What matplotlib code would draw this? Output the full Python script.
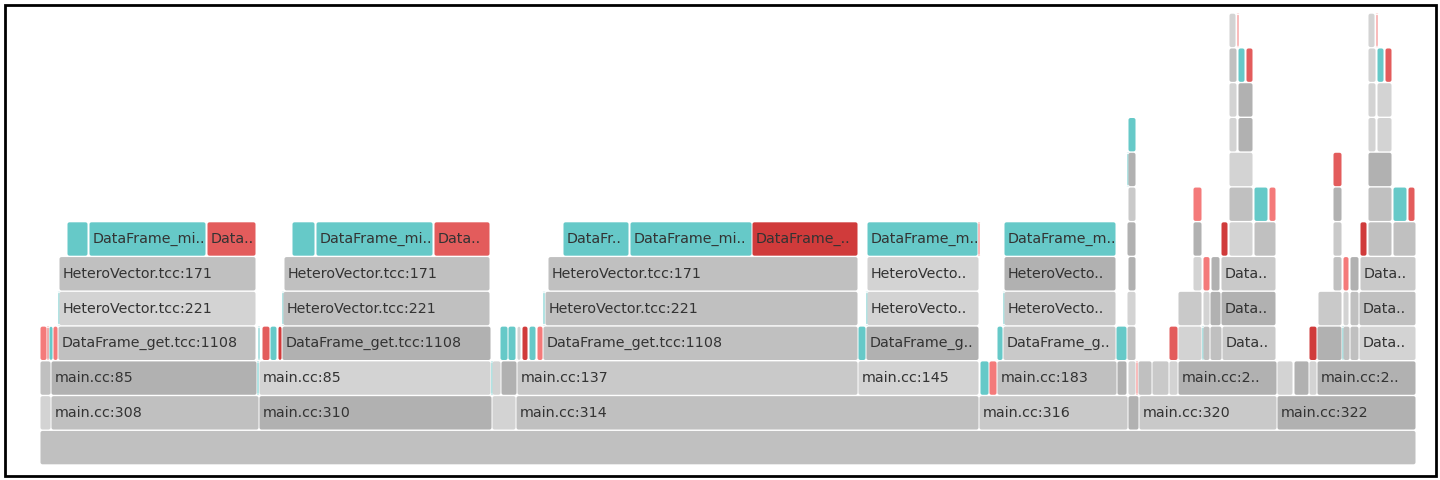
import matplotlib
matplotlib.use('Agg')
import matplotlib.pyplot as plt
from matplotlib.patches import Rectangle, FancyBboxPatch

# flame graph frames, one list per stack depth: (start, end, label, kind)
# start/end in samples, root = 0..1376
row0 = [(0, 1376, '', 'g3')]
row1 = [(0, 11, '', 'g1'), (11, 219, 'main.cc:308', 'g3'), (219, 452, 'main.cc:310', 'g4'),
        (452, 476, '', 'g1'), (476, 939, 'main.cc:314', 'g3'), (939, 1088, 'main.cc:316', 'g2'),
        (1088, 1099, '', 'g4'), (1099, 1237, 'main.cc:320', 'g2'), (1237, 1376, 'main.cc:322', 'g4')]
row2 = [(0, 11, '', 'g3'), (11, 217, 'main.cc:85', 'g4'), (217, 219, '', 'teal'),
        (219, 451, 'main.cc:85', 'g1'), (451, 452, '', 'teal'), (452, 461, '', 'g1'),
        (461, 477, '', 'g4'), (477, 818, 'main.cc:137', 'g2'), (818, 939, 'main.cc:145', 'g1'),
        (940, 949, '', 'teal'), (949, 957, '', 'salmon'), (957, 1077, 'main.cc:183', 'g3'),
        (1077, 1087, '', 'g4'), (1088, 1096, '', 'g1'), (1096, 1098, '', 'salmon'),
        (1098, 1112, '', 'g3'), (1112, 1129, '', 'g2'), (1129, 1138, '', 'g1'),
        (1138, 1237, 'main.cc:2..', 'g4'), (1237, 1253, '', 'g1'), (1254, 1269, '', 'g4'),
        (1269, 1277, '', 'g1'), (1277, 1376, 'main.cc:2..', 'g4')]
row3 = [(0, 7, '', 'salmon'), (7, 9, '', 'red'), (9, 13, '', 'teal'), (13, 18, '', 'salmon'),
        (18, 216, 'DataFrame_get.tcc:1108', 'g3'), (218, 220, '', 'teal'), (222, 230, '', 'red'),
        (230, 237, '', 'teal'), (238, 242, '', 'crimson'), (242, 451, 'DataFrame_get.tcc:1108', 'g4'),
        (460, 468, '', 'teal'), (468, 476, '', 'teal'), (477, 481, '', 'g1'), (482, 488, '', 'crimson'),
        (489, 496, '', 'teal'), (497, 503, '', 'salmon'), (503, 818, 'DataFrame_get.tcc:1108', 'g3'),
        (818, 826, '', 'teal'), (826, 939, 'DataFrame_g..', 'g4'), (957, 963, '', 'teal'),
        (963, 1076, 'DataFrame_g..', 'g2'), (1076, 1087, '', 'teal'), (1087, 1096, '', 'g3'),
        (1129, 1138, '', 'red'), (1138, 1162, '', 'g1'), (1162, 1163, '', 'teal'),
        (1163, 1170, '', 'g3'), (1170, 1182, '', 'g3'), (1182, 1236, 'Data..', 'g2'),
        (1269, 1277, '', 'crimson'), (1277, 1302, '', 'g4'), (1302, 1303, '', 'teal'),
        (1303, 1310, '', 'g3'), (1310, 1319, '', 'g3'), (1319, 1376, 'Data..', 'g1')]
row4 = [(18, 19, '', 'teal'), (19, 216, 'HeteroVector.tcc:221', 'g1'), (242, 243, '', 'teal'),
        (243, 450, 'HeteroVector.tcc:221', 'g3'), (503, 505, '', 'teal'),
        (505, 818, 'HeteroVector.tcc:221', 'g3'), (826, 827, '', 'teal'),
        (827, 939, 'HeteroVecto..', 'g1'), (963, 964, '', 'teal'), (964, 1076, 'HeteroVecto..', 'g2'),
        (1087, 1096, '', 'g1'), (1138, 1162, '', 'g2'), (1163, 1170, '', 'g1'),
        (1170, 1181, '', 'g4'), (1181, 1236, 'Data..', 'g4'), (1278, 1302, '', 'g2'),
        (1303, 1309, '', 'g1'), (1310, 1319, '', 'g3'), (1319, 1376, 'Data..', 'g3')]
row5 = [(19, 216, 'HeteroVector.tcc:171', 'g3'), (244, 450, 'HeteroVector.tcc:171', 'g3'),
        (508, 818, 'HeteroVector.tcc:171', 'g3'), (827, 939, 'HeteroVecto..', 'g1'),
        (964, 1076, 'HeteroVecto..', 'g4'), (1088, 1096, '', 'g4'), (1153, 1162, '', 'g1'),
        (1163, 1170, '', 'salmon'), (1171, 1180, '', 'g4'), (1181, 1236, 'Data..', 'g2'),
        (1293, 1302, '', 'g3'), (1303, 1309, '', 'salmon'), (1310, 1319, '', 'g4'),
        (1320, 1376, 'Data..', 'g2')]
row6 = [(27, 48, '', 'teal'), (49, 166, 'DataFrame_mi..', 'teal'), (167, 216, 'Data..', 'red'),
        (252, 275, '', 'teal'), (276, 393, 'DataFrame_mi..', 'teal'), (394, 450, 'Data..', 'red'),
        (523, 589, 'DataFr..', 'teal'), (590, 712, 'DataFrame_mi..', 'teal'),
        (712, 818, 'DataFrame_..', 'crimson'), (827, 938, 'DataFrame_m..', 'teal'),
        (938, 939, '', 'salmon'), (964, 1076, 'DataFrame_m..', 'teal'), (1087, 1096, '', 'g4'),
        (1153, 1162, '', 'g4'), (1181, 1188, '', 'crimson'), (1189, 1213, '', 'g1'),
        (1214, 1236, '', 'g3'), (1293, 1302, '', 'g2'), (1320, 1327, '', 'crimson'),
        (1328, 1352, '', 'g3'), (1353, 1376, '', 'g3')]
row7 = [(1088, 1096, '', 'g2'), (1153, 1162, '', 'salmon'), (1189, 1213, '', 'g3'),
        (1214, 1228, '', 'teal'), (1229, 1236, '', 'salmon'), (1293, 1302, '', 'g4'),
        (1328, 1352, '', 'g3'), (1353, 1367, '', 'teal'), (1368, 1375, '', 'red')]
row8 = [(1087, 1088, '', 'teal'), (1088, 1096, '', 'g4'), (1189, 1213, '', 'g1'),
        (1293, 1302, '', 'red'), (1328, 1352, '', 'g4')]
row9 = [(1088, 1096, '', 'teal'), (1189, 1197, '', 'g1'), (1198, 1213, '', 'g4'),
        (1328, 1336, '', 'g1'), (1337, 1352, '', 'g1')]
row10 = [(1189, 1197, '', 'g1'), (1198, 1213, '', 'g4'), (1328, 1336, '', 'g1'),
         (1337, 1352, '', 'g1')]
row11 = [(1189, 1197, '', 'g3'), (1198, 1205, '', 'teal'), (1206, 1213, '', 'red'),
         (1328, 1336, '', 'g1'), (1337, 1344, '', 'teal'), (1345, 1352, '', 'red')]
row12 = [(1189, 1196, '', 'g1'), (1197, 1198, '', 'salmon'), (1328, 1335, '', 'g1'),
         (1336, 1337, '', 'salmon')]

rows = [row0, row1, row2, row3, row4, row5, row6, row7, row8, row9, row10, row11, row12]

colors = {'g1': '#d3d3d3', 'g2': '#c9c9c9', 'g3': '#c0c0c0', 'g4': '#b1b1b1',
          'teal': '#66c9c8', 'red': '#e35c5c', 'crimson': '#d03b3b', 'salmon': '#f47a7a'}

fig = plt.figure(figsize=(14.4, 4.8), dpi=100)
ax = fig.add_axes([40 / 1440, 15 / 480, 1376 / 1440, 452 / 480])
ax.set_xlim(0, 1376)
ax.set_ylim(0, len(rows))
ax.axis('off')

for depth, frames in enumerate(rows):
    for start, end, label, kind in frames:
        w = max(end - start - 1, 1.0)   # keep 1-sample slivers visible
        box = FancyBboxPatch((start + 0.5, depth + 0.02), w, 0.96,
                             boxstyle='round,pad=0,rounding_size=2',
                             mutation_aspect=1 / 34.8,
                             facecolor=colors[kind], edgecolor='none')
        ax.add_patch(box)
        if label:
            ax.text(start + 4, depth + 0.5, label, fontsize=10.3, color='#333333',
                    va='center', ha='left')

# outer black frame
fig.patches.append(Rectangle((5 / 1440, 4 / 480), 1431 / 1440, 471 / 480,
                             transform=fig.transFigure, fill=False,
                             edgecolor='black', linewidth=2))

fig.savefig('out.png', dpi=100)
